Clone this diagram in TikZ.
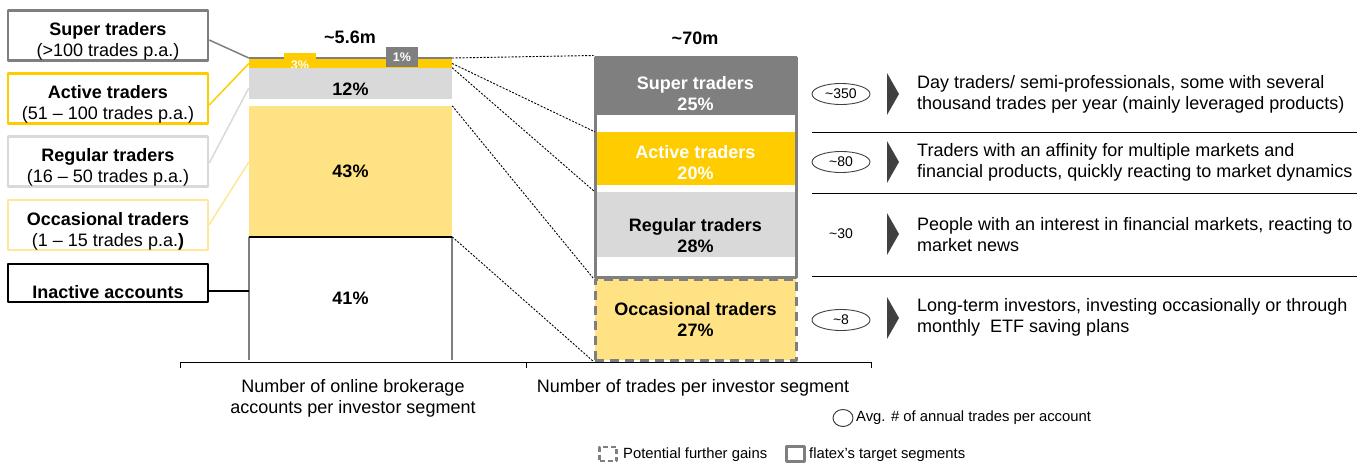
\documentclass[tikz,border=0pt]{standalone}
\usepackage{fontspec}
\setmainfont{Liberation Sans}
\usetikzlibrary{shapes.geometric}
\definecolor{dgray}{HTML}{7F7F7F}
\definecolor{fyellow}{HTML}{FFCC00}
\definecolor{lgray}{HTML}{D9D9D9}
\definecolor{lyellow}{HTML}{FFE283}
\definecolor{pyellow}{HTML}{FFE699}
\definecolor{chev}{HTML}{404040}
\begin{document}
\begin{tikzpicture}[
	x=1pt,y=-1pt,line join=round,
	lbox/.style={rectangle,draw,line width=2.5pt,fill=white,minimum width=200pt,minimum height=48.5pt,inner sep=0pt,align=center,text height=46pt,font=\fontsize{18}{21}\selectfont},
	seg/.style={rectangle,inner sep=0pt,minimum width=203pt,font=\fontsize{18}{21}\selectfont\bfseries},
	rseg/.style={rectangle,inner sep=0pt,minimum width=201pt,align=center,font=\fontsize{18}{21}\selectfont\bfseries},
	desc/.style={anchor=west,align=left,inner sep=0pt,font=\fontsize{18}{21}\selectfont},
	oval/.style={ellipse,draw=chev,line width=0.9pt,minimum width=58pt,minimum height=21pt,inner sep=0pt,font=\fontsize{14}{14}\selectfont},
	guide/.style={dash pattern=on 2pt off 1.5pt,line width=0.9pt},
	legtext/.style={anchor=west,inner sep=0pt,font=\fontsize{14.8}{16}\selectfont}]
	\useasboundingbox (0,0) rectangle (1368,463);
	\node at (108,35.5) (supbox) [lbox,draw=dgray] {\textbf{Super traders}\\(>100 trades p.a.)};
	\node at (108,98.5) (actbox) [lbox,draw=fyellow] {\textbf{Active traders}\\(51 – 100 trades p.a.)};
	\node at (108,161.5) (regbox) [lbox,draw=lgray] {\textbf{Regular traders}\\(16 – 50 trades p.a.)};
	\node at (108,225) (occbox) [lbox,draw=pyellow,line width=2pt] {\textbf{Occasional traders}\\(1 – 15 trades p.a.\textbf{)}};
	\node at (108,282.5) (inbox) [lbox,draw=black,line width=2pt,minimum height=38pt,text height=32pt] {\textbf{Inactive accounts}};
	\node at (350,37) (tot1) [font=\fontsize{18}{18}\selectfont\bfseries] {\textasciitilde5.6m};
	\node at (695,38) (tot2) [font=\fontsize{18}{18}\selectfont\bfseries] {\textasciitilde70m};
	\node at (350.5,58) (barsup) [seg,fill=dgray,minimum height=2pt] {};
	\node at (350.5,63.5) (baract) [seg,fill=fyellow,minimum height=9pt] {};
	\node at (300,56) (tab3) [rectangle,fill=fyellow,minimum width=32pt,minimum height=6pt,inner sep=0pt] {};
	\node at (300,65) (pct3) [text=white,inner sep=0pt,font=\fontsize{12.5}{12.5}\selectfont\bfseries] {3\%};
	\node at (402,57) (tab1) [rectangle,fill=dgray,minimum width=32pt,minimum height=20pt,inner sep=0pt,text=white,font=\fontsize{12.5}{12.5}\selectfont\bfseries] {1\%};
	\node at (350.5,83.5) (barreg) [seg,fill=lgray,minimum height=31pt,text height=24pt] {12\%};
	\node at (350.5,171.5) (barocc) [seg,fill=lyellow,minimum height=131pt] {43\%};
	\node at (350.5,298.5) (barinact) [seg,minimum height=123pt] {41\%};
	\draw[dgray,line width=1.5pt] (barinact.north west) -- (barinact.south west) (barinact.north east) -- (barinact.south east);
	\draw[line width=2pt] (barinact.north west) -- (barinact.north east);
	\draw[dgray,line width=1.5pt] ([yshift=-4.5pt]supbox.east) -- (barsup.west);
	\draw[fyellow,line width=1.5pt] ([yshift=-6.5pt]actbox.east) -- (baract.west);
	\draw[lgray,line width=1.5pt] ([yshift=-1.5pt]regbox.east) -- ([yshift=-4.5pt]barreg.west);
	\draw[pyellow,line width=1.5pt] (occbox.east) -- ([yshift=9.5pt]barocc.west);
	\draw[line width=1.5pt] ([yshift=-8.5pt]inbox.east) -- ([yshift=-8.5pt]inbox.east -| barinact.west);
	\node at (695.5,86) (rsup) [rseg,fill=dgray,text=white,minimum height=58pt,text height=49pt] {Super traders\\25\%};
	\node at (695.5,158.5) (ract) [rseg,fill=fyellow,text=white,minimum height=53pt,text height=43pt] {Active traders\\20\%};
	\node at (695.5,224.5) (rreg) [rseg,fill=lgray,minimum height=65pt,text height=56pt] {Regular traders\\28\%};
	\node at (695.5,167) (rbox) [rectangle,draw=dgray,line width=3pt,minimum width=201pt,minimum height=220pt] {};
	\node at (695.5,319.5) (rocc) [rseg,fill=lyellow,draw=dgray,line width=3pt,dash pattern=on 9pt off 6pt,minimum height=81pt] {Occasional traders\\27\%};
	\draw[guide] (barsup.east) -- (rbox.north west);
	\draw[guide] (baract.east) -- (ract.north west);
	\draw[guide] (barreg.north east) -- (rreg.north west);
	\draw[guide] (barocc.north east) -- (rbox.south west);
	\draw[guide] (barinact.north east) -- (rocc.south west);
	\foreach \y in {132,193,276}
		\draw[line width=1pt] (812,\y) -- (1357,\y);
	\foreach \y in {94,162,234,318}
		\fill[chev] (887,\y-21) -- (899,\y) -- (887,\y+21) -- cycle;
	\node at (841,94) (avg1) [oval] {\textasciitilde350};
	\node at (841,162) (avg2) [oval] {\textasciitilde80};
	\node at (841,234) (avg3) [font=\fontsize{14}{14}\selectfont] {\textasciitilde30};
	\node at (841,320) (avg4) [oval] {\textasciitilde8};
	\node at (917,94.5) (desc1) [desc] {Day traders/ semi-professionals, some with several\\thousand trades per year (mainly leveraged products)};
	\node at (917,162.5) (desc2) [desc] {Traders with an affinity for multiple markets and\\financial products, quickly reacting to market dynamics};
	\node at (917,234.5) (desc3) [desc] {People with an interest in financial markets, reacting to\\market news};
	\node at (917,317.5) (desc4) [desc] {Long-term investors, investing occasionally or through\\monthly~ ETF saving plans};
	\draw[line width=1pt] (180,362) -- (871,362);
	\foreach \x in {180,526,871}
		\draw[line width=1pt] (\x,362) -- (\x,368);
	\node at (353,398.5) (axlab1) [align=center,font=\fontsize{18}{21}\selectfont] {Number of online brokerage\\accounts per investor segment};
	\node at (693,388) (axlab2) [font=\fontsize{18}{21}\selectfont] {Number of trades per investor segment};
	\node at (843,418) (lgcirc) [ellipse,draw=chev,line width=1pt,minimum width=20pt,minimum height=17pt,inner sep=0pt] {};
	\node at (856,418) (lgavg) [legtext] {Avg. \# of annual trades per account};
	\node at (608,454) (lgdash) [rectangle,draw=dgray,line width=2.5pt,dash pattern=on 5pt off 3pt,minimum width=17pt,minimum height=14pt,inner sep=0pt] {};
	\node at (623,455) (lgpot) [legtext] {Potential further gains};
	\node at (795.5,454) (lgbox) [rectangle,draw=dgray,line width=2.5pt,minimum width=18pt,minimum height=15pt,inner sep=0pt] {};
	\node at (809,455) (lgflx) [legtext] {flatex’s target segments};
\end{tikzpicture}
\end{document}
